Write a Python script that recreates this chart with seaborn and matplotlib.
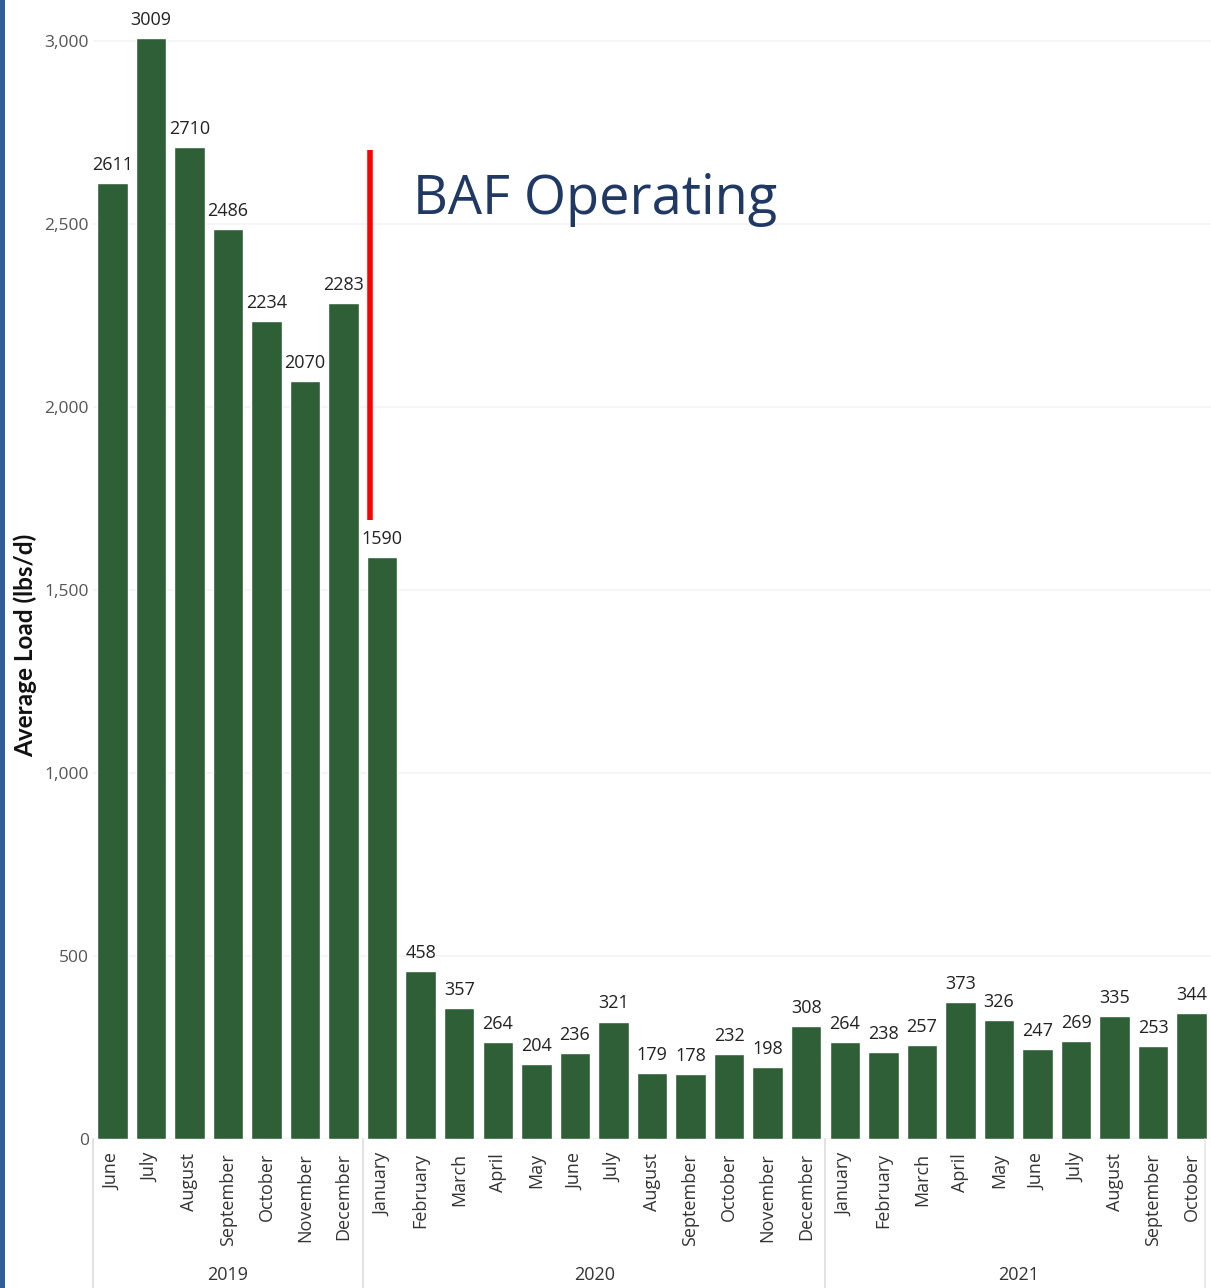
import matplotlib
matplotlib.use("Agg")
import matplotlib.pyplot as plt
import matplotlib.transforms as mtransforms
from matplotlib.patches import Rectangle
import seaborn as sns
import pandas as pd
import numpy as np

# ---------------- data ----------------
years = ["2019"] * 7 + ["2020"] * 12 + ["2021"] * 10
months = ["June", "July", "August", "September", "October", "November", "December",
          "January", "February", "March", "April", "May", "June", "July", "August",
          "September", "October", "November", "December",
          "January", "February", "March", "April", "May", "June", "July", "August",
          "September", "October"]
loads = [2611, 3009, 2710, 2486, 2234, 2070, 2283,
         1590, 458, 357, 264, 204, 236, 321, 179, 178, 232, 198, 308,
         264, 238, 257, 373, 326, 247, 269, 335, 253, 344]
y_ticks = [0, 500, 1000, 1500, 2000, 2500, 3000]
annotation_text = "BAF Operating"
y_label = "Average Load (lbs/d)"

# ---------------- style ----------------
sns.set_theme(style="white")
plt.rcParams["font.family"] = ["Open Sans", "DejaVu Sans"]

bar_color = "#2f5f37"
df = pd.DataFrame({"key": [f"{y}-{m}" for y, m in zip(years, months)],
                   "month": months, "year": years, "load": loads})

fig = plt.figure(figsize=(12.11, 12.88), dpi=100)
ax = fig.add_axes([93 / 1211, 1 - 1139 / 1288, 1 - 93 / 1211, 1139 / 1288])

sns.barplot(data=df, x="key", y="load", color=bar_color, saturation=1,
            width=0.79, ax=ax, order=df["key"].tolist())

ax.set_xlim(-0.5, len(loads) - 0.5)
ax.set_ylim(0, 3112)
ax.set_yticks(y_ticks)
ax.set_yticklabels([f"{v:,}" for v in y_ticks], fontsize=12.5, color="#555555")
ax.tick_params(axis="y", length=0, pad=3)
ax.grid(axis="y", color="#f3f3f3", linewidth=1.2)
ax.set_axisbelow(True)
for s in ax.spines.values():
    s.set_visible(False)

# month tick labels
ax.set_xticks(range(len(months)))
ax.set_xticklabels(months, rotation=90, fontsize=13, color="#333333", va="top")
ax.tick_params(axis="x", length=0, pad=10)
ax.set_xlabel("")
ax.set_ylabel("")

# value labels
for cont in ax.containers:
    ax.bar_label(cont, labels=[str(v) for v in loads], padding=6.5,
                 fontsize=13, color="#222222")

# year groups: separators and labels
trans = mtransforms.blended_transform_factory(ax.transData, ax.transAxes)
bottom = -149 / 1139
ylab = -(1275 - 1139) / 1139
uniq_years = list(dict.fromkeys(years))
start = 0
seps = [-0.5]
for yr in uniq_years:
    n = years.count(yr)
    end = start + n - 1
    ax.text((start + end) / 2, ylab, yr, transform=trans, ha="center", va="center",
            fontsize=13, color="#333333")
    seps.append(end + 0.5)
    start = end + 1
for sx in seps[:-1]:
    ax.plot([sx, sx], [0, bottom], transform=trans, color="#dddddd",
            linewidth=1.2, clip_on=False)
ax.plot([len(loads) - 0.65, len(loads) - 0.65], [0, bottom], transform=trans,
        color="#e6e6e6", linewidth=1.2, clip_on=False)

# BAF annotation
ax.plot([6.69, 6.69], [1690, 2702], color="#ff0000", linewidth=4, solid_capstyle="butt")
ax.text(7.8, 2568, annotation_text, fontsize=39, color="#1f3864", ha="left", va="center")

# y-axis title
fig.text(25 / 1211, 1 - 645 / 1288, y_label, rotation=90, ha="center", va="center",
         fontsize=17.5, fontweight="bold", color="#111111", family=["Lato", "DejaVu Sans"])

# left blue strip
fig.patches.append(Rectangle((0, 0), 5 / 1211, 1, transform=fig.transFigure,
                             facecolor="#2f5c9a", edgecolor="none", zorder=5))

fig.savefig("out.png", dpi=100)
